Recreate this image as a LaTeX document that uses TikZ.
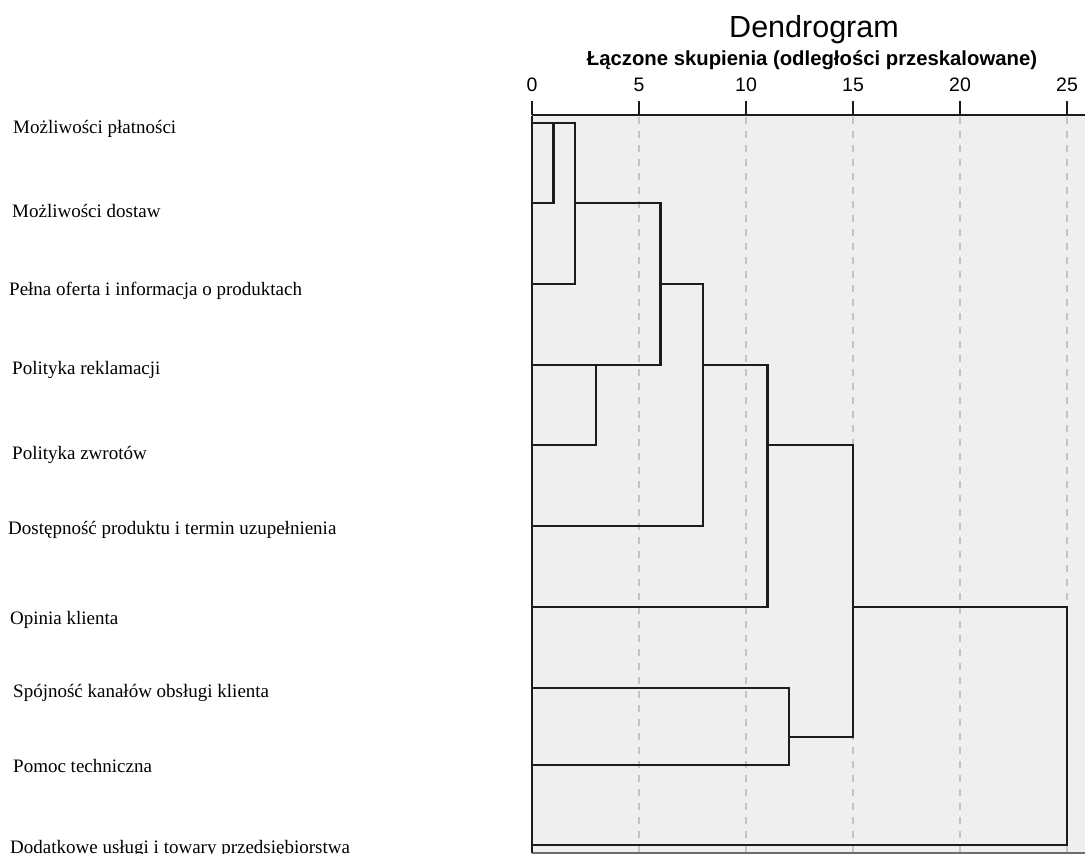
\documentclass[tikz,border=0pt]{standalone}
\usepackage{fontspec}
\setmainfont{Liberation Serif}
\newfontfamily\arialfont{Liberation Sans}
\definecolor{panel}{RGB}{239,239,239}
\definecolor{gridc}{RGB}{196,196,196}
\definecolor{treec}{RGB}{28,28,28}
\definecolor{framec}{RGB}{110,110,110}
\begin{document}
\begin{tikzpicture}[x=1pt,y=-1pt,
  leaf/.style={anchor=base west, inner sep=0pt, font=\fontsize{19}{20}\selectfont},
  ticklabel/.style={anchor=base, inner sep=0pt, font=\arialfont\fontsize{19.5}{20}\selectfont},
  branch/.style={draw=treec, line width=2.2pt, line join=miter},
  gridline/.style={draw=gridc, line width=1.3pt, dash pattern=on 7pt off 7pt},
  axisline/.style={draw=treec, line width=1.9pt}]
\useasboundingbox (0,0) rectangle (1085,854);

% titles
\node[inner sep=0pt, anchor=base, font=\arialfont\fontsize{30.5}{31}\selectfont] (title) at (814,37) {Dendrogram};
\node[inner sep=0pt, anchor=base, font=\arialfont\bfseries\fontsize{20.3}{21}\selectfont] (subtitle) at (812,65) {Łączone skupienia (odległości przeskalowane)};

% leaf labels
\node[leaf] (lA) at (13,133) {Możliwości płatności};
\node[leaf] (lB) at (12,217) {Możliwości dostaw};
\node[leaf] (lC) at (9,295) {Pełna oferta i informacja o produktach};
\node[leaf] (lD) at (12,374) {Polityka reklamacji};
\node[leaf] (lE) at (12,459) {Polityka zwrotów};
\node[leaf] (lF) at (8,534) {Dostępność produktu i termin uzupełnienia};
\node[leaf] (lG) at (10,624) {Opinia klienta};
\node[leaf] (lH) at (13,697) {Spójność kanałów obsługi klienta};
\node[leaf] (lI) at (13,772) {Pomoc techniczna};
\node[leaf] (lJ) at (10,853) {Dodatkowe usługi i towary przedsiębiorstwa};

% distance scale: one unit = 21.4pt, origin at x = 532
\begin{scope}[shift={(532,0)}, x=21.4pt]
  % panel
  \fill[panel] (0,116) rectangle (27,853);
  \foreach \u in {5,10,...,25}
    \draw[gridline] (\u,117) -- (\u,852);
  \draw[framec, line width=1.2pt] (0,853) -- (27,853);
  \draw[treec, line width=1.8pt] (0,116) -- (0,853);

  % axis with ticks
  \draw[axisline] (0,115) -- (27,115);
  \foreach \u in {0,5,...,25} {
    \draw[axisline] (\u,101) -- (\u,115);
    \node[ticklabel] (t\u) at (\u,91) {\u};
  }

  % leaf ends
  \coordinate (a) at (0,123);
  \coordinate (b) at (0,203);
  \coordinate (c) at (0,284);
  \coordinate (d) at (0,365);
  \coordinate (e) at (0,445);
  \coordinate (f) at (0,526);
  \coordinate (g) at (0,607);
  \coordinate (h) at (0,688);
  \coordinate (i) at (0,765);
  \coordinate (j) at (0,845);

  % merges
  \draw[branch] (b) -| (1,123);
  \draw[branch] (a) -| (2,284) -- (c);
  \draw[branch] (3,365) |- (e);
  \draw[branch] (2,203) -| (6,365) -- (d);
  \draw[branch] (6,284) -| (8,526) -- (f);
  \draw[branch] (8,365) -| (11,607) -- (g);
  \draw[branch] (h) -| (12,765) -- (i);
  \draw[branch] (11,445) -| (15,737) -- (12,737);
  \draw[branch] (15,607) -| (25,845) -- (j);
\end{scope}
\end{tikzpicture}
\end{document}
